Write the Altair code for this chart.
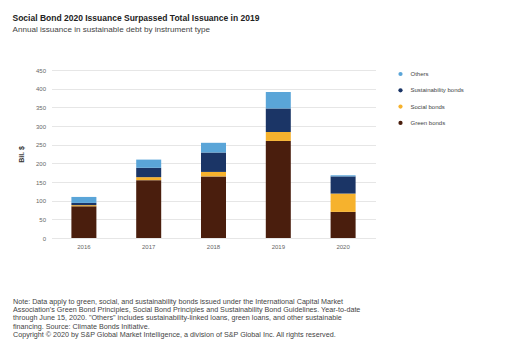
import altair as alt
import pandas as pd

years = ["2016", "2017", "2018", "2019", "2020"]
green = [85, 155, 165, 260, 70]
social = [3, 8, 12, 24, 49]
sustainability = [6, 25, 52, 63, 46]
others = [16, 22, 26, 44, 3]

series = ["Others", "Sustainability bonds", "Social bonds", "Green bonds"]
colors = ["#5aa5d8", "#1b3566", "#f6b22d", "#4a1e0d"]
stack_rank = {"Green bonds": 0, "Social bonds": 1, "Sustainability bonds": 2, "Others": 3}

note_lines = [
    "Note: Data apply to green, social, and sustainability bonds issued under the International Capital Market",
    "Association's Green Bond Principles, Social Bond Principles and Sustainability Bond Guidelines. Year-to-date",
    "through June 15, 2020. \"Others\" includes sustainability-linked loans, green loans, and other sustainable",
    "financing. Source: Climate Bonds Initiative.",
    "Copyright \u00a9 2020 by S&P Global Market Intelligence, a division of S&P Global Inc. All rights reserved.",
]

rows = []
for i, y in enumerate(years):
    for name, vals in [("Green bonds", green), ("Social bonds", social),
                       ("Sustainability bonds", sustainability), ("Others", others)]:
        rows.append({"year": y, "type": name, "value": vals[i], "rank": stack_rank[name]})
df = pd.DataFrame(rows)

FONT = "Liberation Sans"

chart = alt.Chart(df).mark_bar(size=25).encode(
    x=alt.X("year:N", sort=years,
            axis=alt.Axis(title=note_lines, labelAngle=0, labelFontSize=6, labelColor="#666666",
                          domain=False, ticks=False, labelPadding=5,
                          titleAnchor="start", titleAlign="left", titleBaseline="top",
                          titleX=-39, titleY=59, titleFontSize=7.2, titleFontWeight="normal",
                          titleColor="#444444", titleLineHeight=8.4, titleFont=FONT)),
    y=alt.Y("value:Q", stack="zero",
            scale=alt.Scale(domain=[0, 450], nice=False),
            axis=alt.Axis(title="Bil. $", values=list(range(0, 451, 50)), labelFontSize=6,
                          labelColor="#666666", domain=False, ticks=False, labelPadding=6,
                          gridColor="#e6e6e6", titleFontSize=7, titleColor="#333333",
                          titleFontWeight="bold", titlePadding=11)),
    color=alt.Color("type:N", scale=alt.Scale(domain=series, range=colors),
                    legend=alt.Legend(title=None, orient="none", legendX=346, legendY=1,
                                      symbolType="circle", symbolSize=18, labelFontSize=6,
                                      labelColor="#444444", rowPadding=10.3, labelOffset=7)),
    order=alt.Order("rank:Q", sort="ascending"),
).properties(
    width=324,
    height=168,
    autosize=alt.AutoSizeParams(type="none"),
    padding={"left": 43.5, "top": 62, "right": 123.5, "bottom": 101},
    title=alt.TitleParams(
        text="Social Bond 2020 Issuance Surpassed Total Issuance in 2019",
        subtitle="Annual issuance in sustainable debt by instrument type",
        anchor="start", frame="group", dx=-39, offset=33,
        fontSize=8.5, fontWeight="bold", color="#222222", font=FONT,
        subtitleFontSize=8.1, subtitleColor="#444444", subtitleFont=FONT, subtitlePadding=3,
    ),
).configure(font=FONT).configure_view(stroke=None)

chart.save("out.html", embed_options={"renderer": "svg", "actions": False})
